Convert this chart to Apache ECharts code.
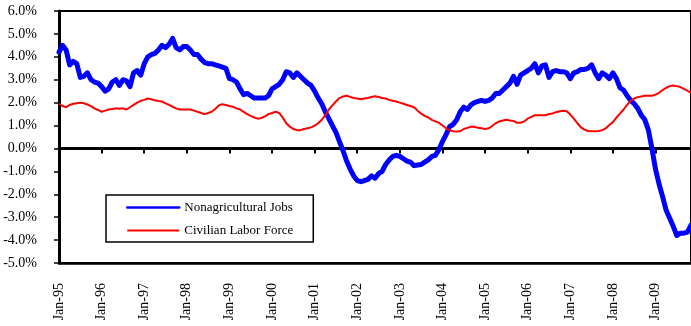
<!DOCTYPE html>
<html>
<head>
<meta charset="utf-8">
<script src="https://cdn.jsdelivr.net/npm/echarts@6/dist/echarts.min.js"></script>
<style>
  html, body { margin: 0; padding: 0; background: #fff; }
  #chart { width: 691px; height: 326px; }
</style>
</head>
<body>
<div id="chart"></div>
<script>
// Year-over-year growth, monthly, Jan-1995 .. Nov-2009 (percent)
const MONTHS = ['Jan','Feb','Mar','Apr','May','Jun','Jul','Aug','Sep','Oct','Nov','Dec'];
const YEARS = ['95','96','97','98','99','00','01','02','03','04','05','06','07','08','09'];
const LAST_YEAR_MONTHS = 11;

const SERIES_NAMES = ['Nonagricultural Jobs', 'Civilian Labor Force'];

const nonagJobs = [
  4.2, 4.5, 4.3, 3.65, 3.8, 3.7, 3.1, 3.15, 3.3, 3.0, 2.9, 2.85,          // 1995
  2.7, 2.5, 2.6, 2.9, 3.0, 2.75, 3.0, 2.95, 2.7, 3.3, 3.4, 3.2,           // 1996
  3.7, 4.0, 4.1, 4.15, 4.3, 4.5, 4.4, 4.55, 4.8, 4.4, 4.3, 4.45,          // 1997
  4.45, 4.3, 4.1, 4.1, 3.9, 3.75, 3.7, 3.7, 3.65, 3.6, 3.55, 3.5,         // 1998
  3.05, 3.0, 2.9, 2.6, 2.35, 2.4, 2.3, 2.2, 2.2, 2.2, 2.2, 2.3,           // 1999
  2.6, 2.7, 2.8, 3.0, 3.35, 3.3, 3.1, 3.3, 3.15, 3.0, 2.85, 2.75,         // 2000
  2.5, 2.2, 1.95, 1.6, 1.3, 1.0, 0.7, 0.3, -0.1, -0.55, -0.9, -1.2,       // 2001
  -1.4, -1.45, -1.4, -1.35, -1.2, -1.3, -1.1, -1.0, -0.7, -0.5, -0.35, -0.3, // 2002
  -0.35, -0.45, -0.55, -0.6, -0.75, -0.72, -0.7, -0.6, -0.5, -0.35, -0.3, -0.05, // 2003
  0.3, 0.6, 0.95, 1.05, 1.25, 1.6, 1.8, 1.7, 1.9, 2.0, 2.05, 2.1,         // 2004
  2.05, 2.1, 2.2, 2.4, 2.4, 2.55, 2.7, 2.85, 3.15, 2.8, 3.2, 3.3,         // 2005
  3.4, 3.5, 3.7, 3.3, 3.6, 3.65, 3.1, 3.35, 3.4, 3.35, 3.35, 3.3,         // 2006
  3.05, 3.3, 3.35, 3.45, 3.45, 3.5, 3.65, 3.3, 3.05, 3.3, 3.2, 3.05,      // 2007
  3.3, 3.05, 2.65, 2.55, 2.3, 2.1, 1.95, 1.75, 1.45, 1.25, 0.8, 0.0,      // 2008
  -0.9, -1.55, -2.1, -2.7, -3.05, -3.4, -3.8, -3.7, -3.7, -3.65, -3.35    // 2009
];

const laborForce = [
  1.95, 1.85, 1.8, 1.9, 1.95, 1.97, 2.0, 1.97, 1.92, 1.85, 1.75, 1.68,    // 1995
  1.6, 1.65, 1.7, 1.72, 1.75, 1.73, 1.75, 1.7, 1.8, 1.9, 2.0, 2.08,       // 1996
  2.12, 2.18, 2.15, 2.1, 2.07, 2.05, 1.97, 1.9, 1.82, 1.75, 1.7, 1.7,     // 1997
  1.7, 1.7, 1.65, 1.6, 1.55, 1.5, 1.55, 1.6, 1.72, 1.88, 1.93, 1.9,       // 1998
  1.85, 1.82, 1.75, 1.7, 1.6, 1.5, 1.42, 1.35, 1.3, 1.33, 1.4, 1.5,       // 1999
  1.55, 1.6, 1.55, 1.35, 1.1, 0.95, 0.85, 0.8, 0.8, 0.85, 0.88, 0.92,     // 2000
  1.0, 1.1, 1.25, 1.45, 1.7, 1.88, 2.05, 2.2, 2.27, 2.3, 2.25, 2.2,       // 2001
  2.18, 2.15, 2.18, 2.2, 2.25, 2.28, 2.25, 2.2, 2.18, 2.12, 2.08, 2.05,   // 2002
  2.0, 1.95, 1.9, 1.85, 1.8, 1.65, 1.52, 1.42, 1.35, 1.25, 1.18, 1.12,    // 2003
  1.0, 0.88, 0.8, 0.75, 0.74, 0.75, 0.85, 0.9, 0.95, 0.95, 0.9, 0.88,     // 2004
  0.85, 0.88, 0.98, 1.1, 1.18, 1.22, 1.25, 1.22, 1.2, 1.12, 1.12, 1.18,   // 2005
  1.3, 1.38, 1.45, 1.45, 1.45, 1.45, 1.5, 1.53, 1.58, 1.62, 1.65, 1.62,   // 2006
  1.48, 1.3, 1.1, 0.92, 0.82, 0.76, 0.75, 0.75, 0.76, 0.8, 0.88, 1.02,    // 2007
  1.15, 1.35, 1.52, 1.7, 1.9, 2.07, 2.18, 2.24, 2.27, 2.3, 2.3, 2.3,      // 2008
  2.35, 2.43, 2.55, 2.65, 2.72, 2.75, 2.72, 2.68, 2.6, 2.52, 2.42         // 2009
];

const Y_MIN = -5, Y_MAX = 6, Y_STEP = 1;

// month categories "Jan-95" ...
const categories = [];
YEARS.forEach((yy, yi) => {
  const n = yi === YEARS.length - 1 ? LAST_YEAR_MONTHS : 12;
  for (let m = 0; m < n; m++) categories.push(MONTHS[m] + '-' + yy);
});

const FONT = '"Liberation Serif", "Times New Roman", serif';
const isJan = (idx) => idx % 12 === 0;

const chart = echarts.init(document.getElementById('chart'), null, { renderer: 'canvas' });
chart.setOption({
  animation: false,
  backgroundColor: '#ffffff',
  textStyle: { fontFamily: FONT, color: '#000' },
  grid: {
    left: 59, right: -2, top: 11, bottom: 63,
    show: true, borderColor: '#000', borderWidth: 2, backgroundColor: 'transparent'
  },
  legend: {
    orient: 'vertical',
    left: 106, top: 195,
    padding: [6, 20, 5, 20],
    itemWidth: 52, itemHeight: 14, itemGap: 10,
    borderColor: '#000', borderWidth: 1.5,
    backgroundColor: '#fff',
    // plain line samples, no marker dot
    itemStyle: { opacity: 0 },
    textStyle: { fontFamily: FONT, fontSize: 13, color: '#000' },
    data: [
      { name: SERIES_NAMES[0], lineStyle: { width: 2.5 } },
      { name: SERIES_NAMES[1], lineStyle: { width: 2 } }
    ]
  },
  xAxis: [
    {
      type: 'category', data: categories, boundaryGap: false, position: 'bottom',
      axisLine: { onZero: false, lineStyle: { color: '#000', width: 2.5 } },
      axisTick: { show: false },
      axisLabel: {
        interval: (idx) => isJan(idx), rotate: 90, margin: 20,
        fontFamily: FONT, fontSize: 14, color: '#000'
      },
      splitLine: { show: false }
    },
    {
      type: 'category', data: categories, boundaryGap: false, position: 'top',
      axisLine: { onZero: true, lineStyle: { color: '#000', width: 3 } },
      axisTick: { show: true, inside: true, length: 5, interval: (idx) => isJan(idx), lineStyle: { color: '#000', width: 2 } },
      axisLabel: { show: false },
      splitLine: { show: false }
    }
  ],
  yAxis: {
    type: 'value', min: Y_MIN, max: Y_MAX, interval: Y_STEP,
    axisLine: { show: true, onZero: false, lineStyle: { color: '#000', width: 3 } },
    axisTick: { show: true, length: 5, lineStyle: { color: '#000', width: 1.5 } },
    axisLabel: {
      margin: 22, fontFamily: FONT, fontSize: 14, color: '#000',
      formatter: (v) => v.toFixed(1) + '%'
    },
    splitLine: { show: false }
  },
  series: [
    {
      name: SERIES_NAMES[0], type: 'line', data: nonagJobs,
      symbol: 'none', smooth: false,
      lineStyle: { color: '#0000ff', width: 5, join: 'round', cap: 'round' },
      itemStyle: { color: '#0000ff' }
    },
    {
      name: SERIES_NAMES[1], type: 'line', data: laborForce,
      symbol: 'none', smooth: false,
      lineStyle: { color: '#ff0000', width: 2 },
      itemStyle: { color: '#ff0000' }
    }
  ]
});
</script>
</body>
</html>
